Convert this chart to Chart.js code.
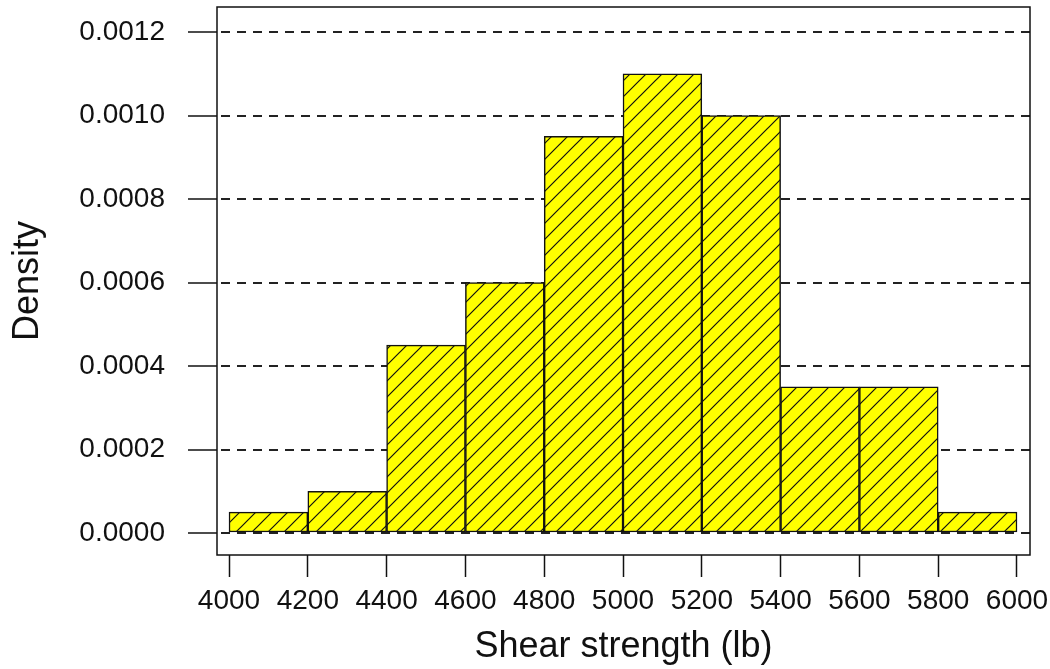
<!DOCTYPE html>
<html>
<head>
<meta charset="utf-8">
<script src="https://cdn.jsdelivr.net/npm/chart.js@4.4.1/dist/chart.umd.min.js"></script>
<style>
    html, body { margin: 0; padding: 0; background: #fff; }
    canvas { display: block; }
</style>
</head>
<body>
<canvas id="hist" width="1050" height="669"></canvas>
<script>
var binStarts = [4000, 4200, 4400, 4600, 4800, 5000, 5200, 5400, 5600, 5800];
var binWidth = 200;
var densities = [0.00005, 0.0001, 0.00045, 0.0006, 0.00095, 0.0011, 0.0010, 0.00035, 0.00035, 0.00005];
var xTicks = [4000, 4200, 4400, 4600, 4800, 5000, 5200, 5400, 5600, 5800, 6000];
var yTicks = [0, 0.0002, 0.0004, 0.0006, 0.0008, 0.0010, 0.0012];
var xTitle = "Shear strength (lb)";
var yTitle = "Density";

var fontFamily = "'Liberation Sans', Arial, sans-serif";
var ink = '#111';

// yellow fill with "/" hatching
function hatchPattern() {
    var size = 16;
    var c = document.createElement('canvas');
    c.width = size;
    c.height = size;
    var ctx = c.getContext('2d');
    ctx.fillStyle = '#ffff00';
    ctx.fillRect(0, 0, size, size);
    ctx.strokeStyle = '#111';
    ctx.lineWidth = 1.2;
    ctx.beginPath();
    ctx.moveTo(-1, size + 1); ctx.lineTo(size + 1, -1);
    ctx.moveTo(-1, 1); ctx.lineTo(1, -1);
    ctx.moveTo(size - 1, size + 1); ctx.lineTo(size + 1, size - 1);
    ctx.stroke();
    return ctx.createPattern(c, 'repeat');
}

// box around the plot area
var framePlugin = {
    id: 'frame',
    afterDraw: function(chart) {
        var a = chart.chartArea;
        var ctx = chart.ctx;
        ctx.save();
        ctx.strokeStyle = ink;
        ctx.lineWidth = 1.5;
        ctx.strokeRect(a.left, a.top, a.right - a.left, a.bottom - a.top);
        ctx.restore();
    }
};

function setTicks(values) {
    return function(scale) {
        scale.ticks = values.map(function(v) { return {value: v}; });
    };
}

var points = binStarts.map(function(start, i) {
    return {x: start + binWidth / 2, y: densities[i]};
});

new Chart(document.getElementById('hist'), {
    type: 'bar',
    data: {
        datasets: [{
            data: points,
            backgroundColor: hatchPattern(),
            borderColor: ink,
            borderWidth: 1.5,
            borderSkipped: false,
            categoryPercentage: 1.0,
            barPercentage: 1.0,
        }],
    },
    plugins: [framePlugin],
    options: {
        responsive: false,
        animation: false,
        layout: {
            padding: {top: 7, right: 20, left: 0, bottom: 0},
        },
        plugins: {
            legend: {display: false},
            tooltip: {enabled: false},
        },
        scales: {
            x: {
                type: 'linear',
                min: 3969.5,
                max: 6033,
                offset: false,
                afterBuildTicks: setTicks(xTicks),
                afterFit: function(scale) {
                    scale.height = 114;
                    scale.paddingLeft = 0;
                    scale.paddingRight = 0;
                },
                grid: {
                    offset: false,
                    drawOnChartArea: false,
                    tickLength: 22,
                    tickColor: ink,
                    tickWidth: 1.5,
                },
                border: {display: false},
                ticks: {
                    padding: 7,
                    maxRotation: 0,
                    autoSkip: false,
                    color: ink,
                    font: {family: fontFamily, size: 28},
                    callback: function(v) { return String(v); },
                },
                title: {
                    display: true,
                    text: xTitle,
                    color: ink,
                    font: {family: fontFamily, size: 36},
                    padding: {top: 0, bottom: 0},
                },
            },
            y: {
                min: -0.0000527,
                max: 0.00126,
                afterBuildTicks: setTicks(yTicks),
                afterFit: function(scale) {
                    scale.width = 217;
                    scale.paddingTop = 0;
                    scale.paddingBottom = 0;
                },
                grid: {
                    color: '#222',
                    lineWidth: 2,
                    tickLength: 29,
                    tickColor: ink,
                    tickWidth: 1.5,
                    tickBorderDash: [],
                },
                border: {display: false, dash: [9, 7], dashOffset: 12},
                ticks: {
                    padding: 23,
                    autoSkip: false,
                    color: ink,
                    font: {family: fontFamily, size: 28},
                    callback: function(v) { return v.toFixed(4); },
                },
                title: {
                    display: true,
                    text: yTitle,
                    color: ink,
                    font: {family: fontFamily, size: 36},
                    padding: {top: 6, bottom: 0},
                },
            },
        },
    },
});
</script>
</body>
</html>
